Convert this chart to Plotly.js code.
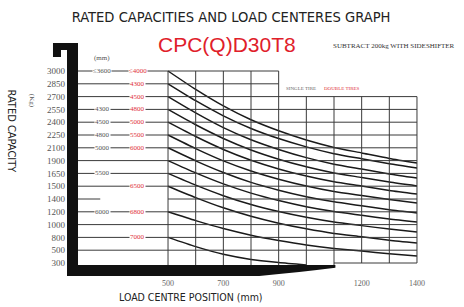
<!DOCTYPE html>
<html><head><meta charset="utf-8">
<script src="https://cdn.plot.ly/plotly-3.0.1.min.js"></script>
<style>html,body{margin:0;padding:0;background:#fff}#chart{width:464px;height:307px}</style>
</head><body><div id="chart"></div>
<script>
// ---- data ----
const capacityLabels = ['300','500','800','1000','1200','1400','1500','1650','1900','2100','2250','2400','2550','2700','2850','3000'];
const rowIndex = [0,1,2,3,4,5,6,7,8,9,10,11,12,13,14,15];
const loadCentres = [500,600,700,800,900,1000,1100,1200,1300,1400];
const xTickVals = [500,700,900,1200,1400];
// curves: rated capacity expressed as position on the capacity rows (row index)
const curve3000 = [15,13.56,12.27,11.19,10.33,9.61,9.03,8.60,8.17,7.81];
const curve2850 = [14,12.68,11.50,10.51,9.72,9.07,8.54,8.14,7.75,7.42];
const curve2700 = [13,11.73,10.58,9.63,8.87,8.23,7.72,7.34,6.96,6.64];
const curve2550 = [12,10.80,9.73,8.83,8.11,7.52,7.04,6.68,6.32,6.02];
const curve2400 = [11,9.88,8.87,8.03,7.35,6.79,6.34,6.01,5.67,5.39];
const curve2250 = [10,8.94,7.98,7.19,6.55,6.02,5.59,5.27,4.96,4.69];
const curve2100 = [9,7.98,7.07,6.30,5.69,5.18,4.78,4.47,4.16,3.91];
const curve1900 = [8,7.04,6.18,5.46,4.88,4.40,4.02,3.73,3.44,3.20];
const curve1650 = [7,6.08,5.26,4.57,4.02,3.57,3.20,2.92,2.65,2.42];
const curve1500 = [6,5.11,4.31,3.65,3.11,2.67,2.31,2.05,1.78,1.56];
const curve1200 = [4,3.31,2.69,2.17,1.76,1.41,1.14,0.93,0.72,0.55];
const curve800  = [2,1.28,0.68,0.28,0.04,-0.15];
// mast heights (mm) beside rows: single tyre (black) and double tyres (red)
const singleRows = [15,12,11,10,9,7,4];
const singleMast = ['≤3600','4300','4500','4800','5000','5500','6000'];
const doubleRows = [15,14,13,12,11,10,9,6,4,2];
const doubleMast = ['≤4000','4300','4500','4800','5000','5500','6000','6500','6800','7000'];

// ---- layout helpers ----
const narrow = 'Liberation Sans Narrow, DejaVu Sans Condensed, Arial Narrow, sans-serif';
const serif = 'Liberation Serif, DejaVu Serif, serif';
const curves = [curve3000,curve2850,curve2700,curve2550,curve2400,curve2250,curve2100,curve1900,curve1650,curve1500,curve1200,curve800];
const traces = curves.map(c => ({
  type:'scatter', mode:'lines', x: loadCentres.slice(0,c.length), y:c,
  line:{color:'#1a1a1a', width:1.5, shape:'spline', smoothing:0.6},
  hoverinfo:'skip', showlegend:false
}));

const gridColor = '#3a3a3a';
const shapes = [];
const xLeft = 172;   // inner edge of the thick left bar
rowIndex.forEach(r => {
  if (r === 0) { shapes.push({type:'line',xref:'x',yref:'y',x0:1100,x1:1400,y0:r,y1:r,line:{color:gridColor,width:1}}); return; }
  const xEnd = r >= 14 ? 900 : 1400;
  if (r === 5) {
    shapes.push({type:'line',xref:'x',yref:'y',x0:xLeft,x1:255,y0:r,y1:r,line:{color:gridColor,width:1}});
    shapes.push({type:'line',xref:'x',yref:'y',x0:500,x1:xEnd,y0:r,y1:r,line:{color:gridColor,width:1}});
  } else {
    shapes.push({type:'line',xref:'x',yref:'y',x0:xLeft,x1:xEnd,y0:r,y1:r,line:{color:gridColor,width:1}});
  }
});
loadCentres.forEach(v => {
  const top = v <= 900 ? 15 : 13;
  const bottom = v <= 1100 ? -0.2 : 0;
  shapes.push({type:'line',xref:'x',yref:'y',x0:v,x1:v,y0:bottom,y1:top,line:{color:gridColor,width:1}});
});
// thick frame (paper coordinates so it can reach left of the plot area)
shapes.push({type:'path',xref:'paper',yref:'paper',
  path:'M -0.0348,0.9474 L 0.0321,0.9474 L 0.0321,0.0040 L 0.0027,0.0040 L 0.0027,0.919 L -0.0134,0.919 L -0.0134,0.8907 L -0.0348,0.8907 Z',
  fillcolor:'#111', line:{width:0}});
// bottom wedge bar
shapes.push({type:'path',xref:'x',yref:'y',
  path:'M 139,-0.16 L 1105,-0.16 L 1105,-0.38 Q 950,-0.8 830,-1.02 L 139,-1.02 Z',
  fillcolor:'#111', line:{width:0}});

const annotations = [];
singleRows.forEach((r,i) => annotations.push({xref:'x',yref:'y',x:262,y:r,xanchor:'center',yanchor:'middle',text:singleMast[i],showarrow:false,
  font:{family:serif,size:7,color:'#555'},bgcolor:'#fff',borderpad:0}));
doubleRows.forEach((r,i) => annotations.push({xref:'x',yref:'y',x:390,y:r,xanchor:'center',yanchor:'middle',text:doubleMast[i],showarrow:false,
  font:{family:serif,size:7,color:'#e0303a'},bgcolor:'#fff',borderpad:0}));
const ann = (x,y,text,font,extra) => Object.assign({xref:'paper',yref:'paper',x:x,y:y,xanchor:'center',yanchor:'middle',text:text,showarrow:false,font:font},extra||{});
annotations.push(
  ann(0.431,0.943,'CPC(Q)D30T8',{family:'Liberation Sans, Arial, sans-serif',size:21,color:'#e0202a'}),
  ann(0.876,0.935,'SUBTRACT 200kg WITH SIDESHIFTER',{family:serif,size:7,color:'#333'}),
  ann(0.096,0.887,'(mm)',{family:serif,size:7,color:'#555'}),
  ann(0.628,0.765,'SINGLE TIRE',{family:serif,size:5,color:'#666'}),
  ann(0.738,0.765,'DOUBLE TIRES',{family:serif,size:5,color:'#e0303a'}),
  ann(-0.145,0.59,'RATED CAPACITY',{family:narrow,size:11,color:'#222'},{textangle:90}),
  ann(-0.092,0.715,'(Kg)',{family:serif,size:7,color:'#555'},{textangle:90}),
  ann(0.334,-0.082,'LOAD CENTRE POSITION (mm)',{family:narrow,size:10.5,color:'#222'})
);

const layout = {
  width:464, height:307,
  margin:{l:66, r:24, t:30, b:30},
  paper_bgcolor:'#fff', plot_bgcolor:'#fff',
  title:{text:'RATED CAPACITIES AND LOAD CENTERES GRAPH', x:0.498, xanchor:'center', y:0.945, yanchor:'middle', yref:'container',
         font:{family:narrow, size:14.6, color:'#222'}},
  xaxis:{range:[131.2,1483.2], tickvals:xTickVals, ticktext:xTickVals.map(String), showgrid:false, zeroline:false, showline:false,
         ticks:'', tickfont:{family:serif,size:8,color:'#666'}, fixedrange:true},
  yaxis:{range:[-1.094,18.203], tickvals:rowIndex, ticktext:capacityLabels, showgrid:false, zeroline:false, showline:false,
         ticks:'', tickfont:{family:serif,size:9,color:'#555'}, fixedrange:true},
  shapes:shapes, annotations:annotations, showlegend:false
};
Plotly.newPlot('chart', traces, layout, {staticPlot:true, displayModeBar:false});
</script></body></html>
